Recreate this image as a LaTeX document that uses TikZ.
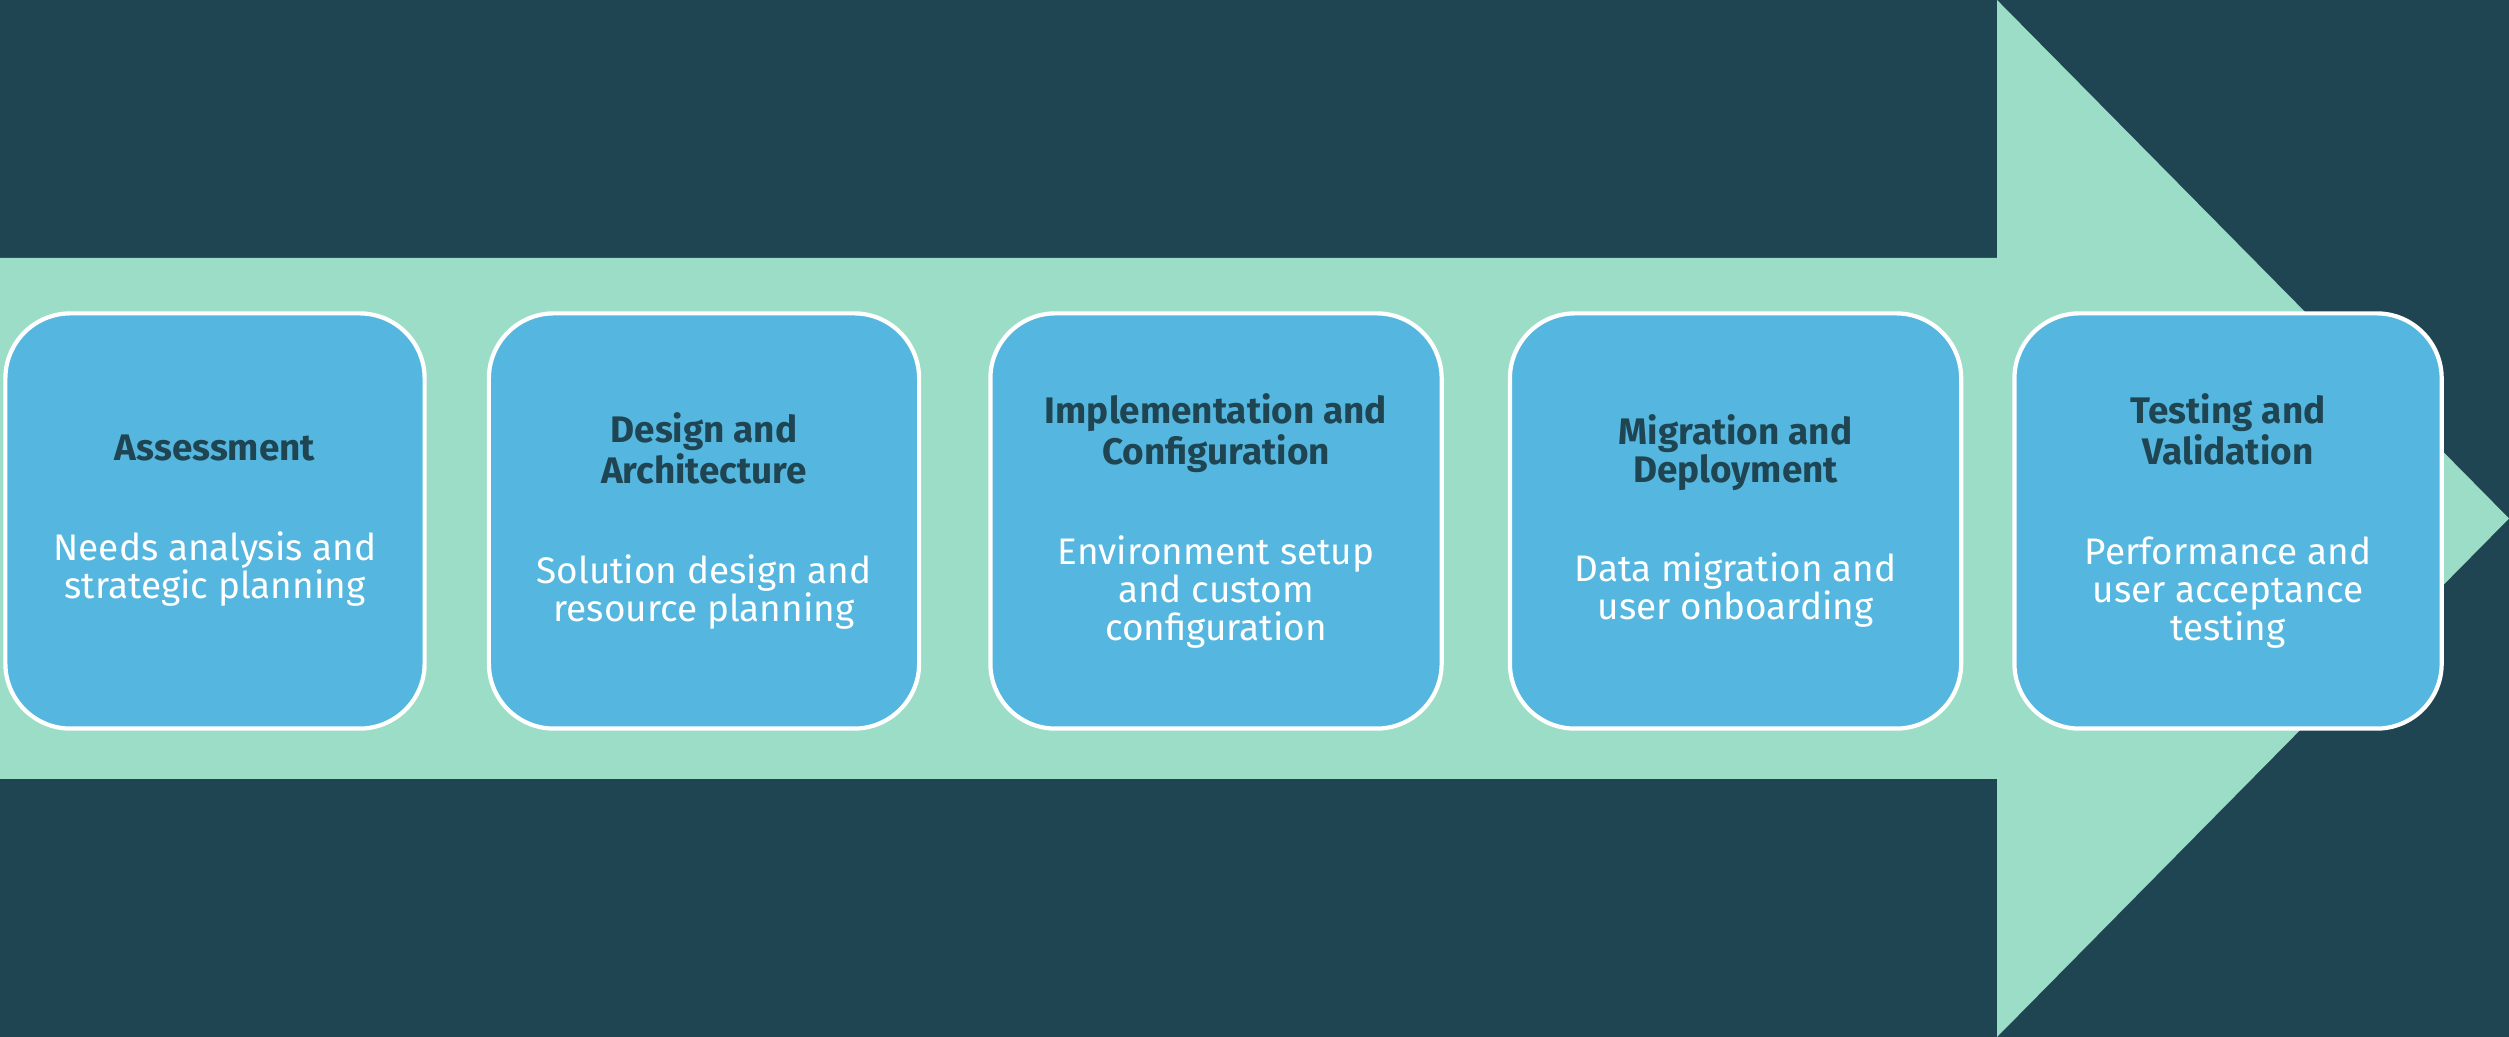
\documentclass[tikz,border=0pt]{standalone}
\usepackage{fontspec}
\setmainfont{Fira Sans}
\usetikzlibrary{positioning}
\definecolor{darkteal}{HTML}{1F4452}
\definecolor{mint}{HTML}{9BDDC7}
\definecolor{skyblue}{HTML}{55B7DF}
\newcommand{\phasetitle}[1]{{\bfseries\color{darkteal}#1}}

\begin{document}
\begin{tikzpicture}[x=0.01cm, y=0.01cm, phase/.style={draw=white, line width=1.2pt, fill=skyblue, rounded corners=0.65cm, minimum height=4.15cm, align=center, text=white, inner sep=0pt, font=\fontsize{10.5}{10.8}\selectfont}]
\fill[darkteal] (0,0) rectangle (2509,1037);
\fill[mint] (0,258) -- (1997,258) -- (1997,0) -- (2509,518.5) -- (1997,1037) -- (1997,779) -- (0,779) -- cycle;
\node[phase, minimum width=4.19cm] (assess) at (215,516) {\phasetitle{Assessment}\\[17.6pt]Needs analysis and\\strategic planning};
\node[phase, minimum width=4.30cm, right=0.6cm of assess] (design) {\phasetitle{Design and}\\\phasetitle{Architecture}\\[17.6pt]Solution design and\\resource planning};
\node[phase, minimum width=4.51cm, right=0.67cm of design] (impl) {\phasetitle{Implementation and}\\\phasetitle{Configuration}\\[17.6pt]Environment setup\\and custom\\configuration};
\node[phase, minimum width=4.51cm, right=0.64cm of impl] (migr) {\phasetitle{Migration and}\\\phasetitle{Deployment}\\[17.6pt]Data migration and\\user onboarding};
\node[phase, minimum width=4.27cm, right=0.49cm of migr] (test) {\phasetitle{Testing and}\\\phasetitle{Validation}\\[17.6pt]Performance and\\user acceptance\\testing};
\end{tikzpicture}
\end{document}
